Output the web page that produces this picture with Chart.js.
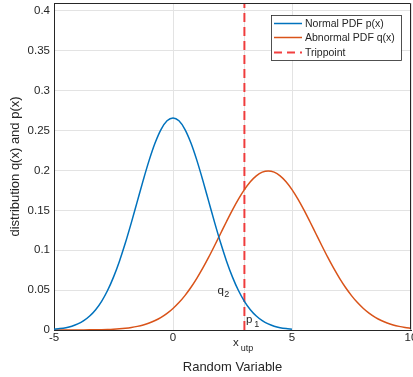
<!DOCTYPE html>
<html>
<head>
<meta charset="utf-8">
<script src="https://cdn.jsdelivr.net/npm/chart.js@4.4.1/dist/chart.umd.min.js"></script>
<style>
html,body{margin:0;padding:0;background:#fff;}
#wrap{width:413px;height:377px;}
</style>
</head>
<body>
<div id="wrap"><canvas id="c" width="413" height="377"></canvas></div>
<script>
// ---- data ----
const xNormal = [-5,-4.75,-4.5,-4.25,-4,-3.75,-3.5,-3.25,-3,-2.75,-2.5,-2.25,-2,-1.75,-1.5,-1.25,-1,-0.75,-0.5,-0.25,0,0.25,0.5,0.75,1,1.25,1.5,1.75,2,2.25,2.5,2.75,3,3.25,3.5,3.75,4,4.25,4.5,4.75,5];
const pNormal = [0.00103,0.00177,0.00295,0.00481,0.00760,0.01169,0.01748,0.02543,0.03599,0.04954,0.06632,0.08634,0.10934,0.13467,0.16131,0.18795,0.21297,0.23471,0.25159,0.26229,0.26596,0.26229,0.25159,0.23471,0.21297,0.18795,0.16131,0.13467,0.10934,0.08634,0.06632,0.04954,0.03599,0.02543,0.01748,0.01169,0.00760,0.00481,0.00295,0.00177,0.00103];
const xAbnormal = [-5,-4.75,-4.5,-4.25,-4,-3.75,-3.5,-3.25,-3,-2.75,-2.5,-2.25,-2,-1.75,-1.5,-1.25,-1,-0.75,-0.5,-0.25,0,0.25,0.5,0.75,1,1.25,1.5,1.75,2,2.25,2.5,2.75,3,3.25,3.5,3.75,4,4.25,4.5,4.75,5,5.25,5.5,5.75,6,6.25,6.5,6.75,7,7.25,7.5,7.75,8,8.25,8.5,8.75,9,9.25,9.5,9.75,10];
const qAbnormal = [0.00001,0.00001,0.00002,0.00004,0.00007,0.00011,0.00018,0.00028,0.00044,0.00067,0.00101,0.00151,0.00222,0.00320,0.00455,0.00636,0.00876,0.01189,0.01587,0.02086,0.02700,0.03439,0.04314,0.05327,0.06476,0.07751,0.09132,0.10594,0.12098,0.13603,0.15057,0.16408,0.17603,0.18593,0.19333,0.19792,0.19947,0.19792,0.19333,0.18593,0.17603,0.16408,0.15057,0.13603,0.12098,0.10594,0.09132,0.07751,0.06476,0.05327,0.04314,0.03439,0.02700,0.02086,0.01587,0.01189,0.00876,0.00636,0.00455,0.00320,0.00222];
const tripX = 3;
const tripY = [0, 0.41];
const xTickVals = [-5, 0, 3, 5, 10];
const xTickLabels = ['-5', '0', '', '5', '10'];
const yTickVals = [0,0.05,0.1,0.15,0.2,0.25,0.3,0.35,0.4];
const yTickLabels = ['0','0.05','0.1','0.15','0.2','0.25','0.3','0.35','0.4'];
const seriesNames = ['Normal PDF p(x)', 'Abnormal PDF q(x)', 'Trippoint'];
// ---- end data ----

const BLUE = '#0072BD', ORANGE = '#D95319', RED = 'rgba(240,30,30,0.85)';
const AXIS = '#262626', GRID = '#e3e3e3';
const FONT = "'Liberation Sans', Arial, Helvetica, sans-serif";

const extras = {
  id: 'extras',
  afterDraw(chart) {
    const ctx = chart.ctx, ca = chart.chartArea;
    const xs = chart.scales.x, ys = chart.scales.y;
    ctx.save();
    // box
    ctx.strokeStyle = AXIS; ctx.lineWidth = 1;
    ctx.beginPath();
    ctx.moveTo(ca.left + 0.5, ca.top + 0.5);
    ctx.lineTo(ca.right - 0.5, ca.top + 0.5);
    ctx.lineTo(ca.right - 0.5, ca.bottom - 0.5);
    ctx.stroke();
    // x_utp tick label
    ctx.fillStyle = AXIS;
    ctx.textBaseline = 'middle';
    ctx.textAlign = 'center';
    ctx.font = "11.5px " + FONT;
    ctx.fillText('x', xs.getPixelForValue(2.647), ca.bottom + 12.5);
    ctx.font = "9px " + FONT;
    ctx.fillText('utp', xs.getPixelForValue(3.11), ca.bottom + 19);
    // annotations q2, p1
    ctx.font = "11.5px " + FONT;
    ctx.fillText('q', xs.getPixelForValue(2.0), ys.getPixelForValue(0.0495));
    ctx.fillText('p', xs.getPixelForValue(3.2), ys.getPixelForValue(0.013));
    ctx.font = "9px " + FONT;
    ctx.fillText('2', xs.getPixelForValue(2.256), ys.getPixelForValue(0.0439));
    ctx.fillText('1', xs.getPixelForValue(3.517), ys.getPixelForValue(0.0063));
    // legend
    const L = 271, T = 15, W = 130, H = 45;
    ctx.fillStyle = '#fff';
    ctx.fillRect(L, T, W, H);
    ctx.strokeStyle = AXIS; ctx.lineWidth = 0.8;
    ctx.strokeRect(L + 0.5, T + 0.5, W, H);
    const rows = [T + 8.5, T + 22.5, T + 37.5];
    const cols = [BLUE, ORANGE, RED];
    ctx.textAlign = 'left';
    ctx.font = "10.5px " + FONT;
    for (let i = 0; i < 3; i++) {
      ctx.strokeStyle = cols[i]; ctx.lineWidth = i === 2 ? 2 : 1.5;
      ctx.setLineDash(i === 2 ? [8, 5] : []);
      ctx.beginPath();
      ctx.moveTo(L + 3, rows[i]); ctx.lineTo(L + 31, rows[i]);
      ctx.stroke();
      ctx.setLineDash([]);
      ctx.fillStyle = AXIS;
      ctx.fillText(seriesNames[i], L + 34, rows[i] + 0.5);
    }
    ctx.restore();
  }
};

new Chart(document.getElementById('c'), {
  type: 'line',
  data: {
    datasets: [
      { label: seriesNames[0], data: xNormal.map((x, i) => ({x, y: pNormal[i]})),
        borderColor: BLUE, borderWidth: 1.5, pointRadius: 0, cubicInterpolationMode: 'monotone', fill: false },
      { label: seriesNames[1], data: xAbnormal.map((x, i) => ({x, y: qAbnormal[i]})),
        borderColor: ORANGE, borderWidth: 1.5, pointRadius: 0, cubicInterpolationMode: 'monotone', fill: false },
      { label: seriesNames[2], data: tripY.map(y => ({x: tripX, y})),
        borderColor: RED, borderWidth: 2, borderDash: [9, 5], pointRadius: 0, fill: false }
    ]
  },
  options: {
    responsive: false,
    animation: false,
    devicePixelRatio: 1,
    layout: { padding: { left: 0, right: 2, top: 3, bottom: 0 } },
    plugins: { legend: { display: false }, tooltip: { enabled: false } },
    scales: {
      x: {
        type: 'linear', min: -5, max: 10,
        afterBuildTicks: s => { s.ticks = xTickVals.map(v => ({value: v})); },
        afterFit: s => { s.height = 47; s.paddingLeft = 0; s.paddingRight = 0; },
        ticks: { autoSkip: false, maxRotation: 0, padding: 1, color: AXIS,
          font: { family: FONT, size: 11.5 },
          callback: (v) => { const i = xTickVals.indexOf(v); return i >= 0 ? xTickLabels[i] : ''; } },
        grid: { color: GRID, drawTicks: false },
        border: { color: AXIS, width: 1 },
        title: { display: true, text: 'Random Variable', color: AXIS,
          font: { family: FONT, size: 13 }, padding: { top: 0, bottom: 2 } }
      },
      y: {
        min: 0, max: 0.41,
        afterBuildTicks: s => { s.ticks = yTickVals.map(v => ({value: v})); },
        afterFit: s => { s.width = 54; s.paddingTop = 0; s.paddingBottom = 0; },
        ticks: { padding: 4, color: AXIS, font: { family: FONT, size: 11.5 },
          callback: (v) => { const i = yTickVals.findIndex(t => Math.abs(t - v) < 1e-9); return i >= 0 ? yTickLabels[i] : ''; } },
        grid: { color: GRID, drawTicks: false },
        border: { color: AXIS, width: 1 },
        title: { display: true, text: 'distribution q(x) and p(x)', color: AXIS,
          font: { family: FONT, size: 13 }, padding: { top: 8, bottom: 0 } }
      }
    }
  },
  plugins: [extras]
});
</script>
</body>
</html>
